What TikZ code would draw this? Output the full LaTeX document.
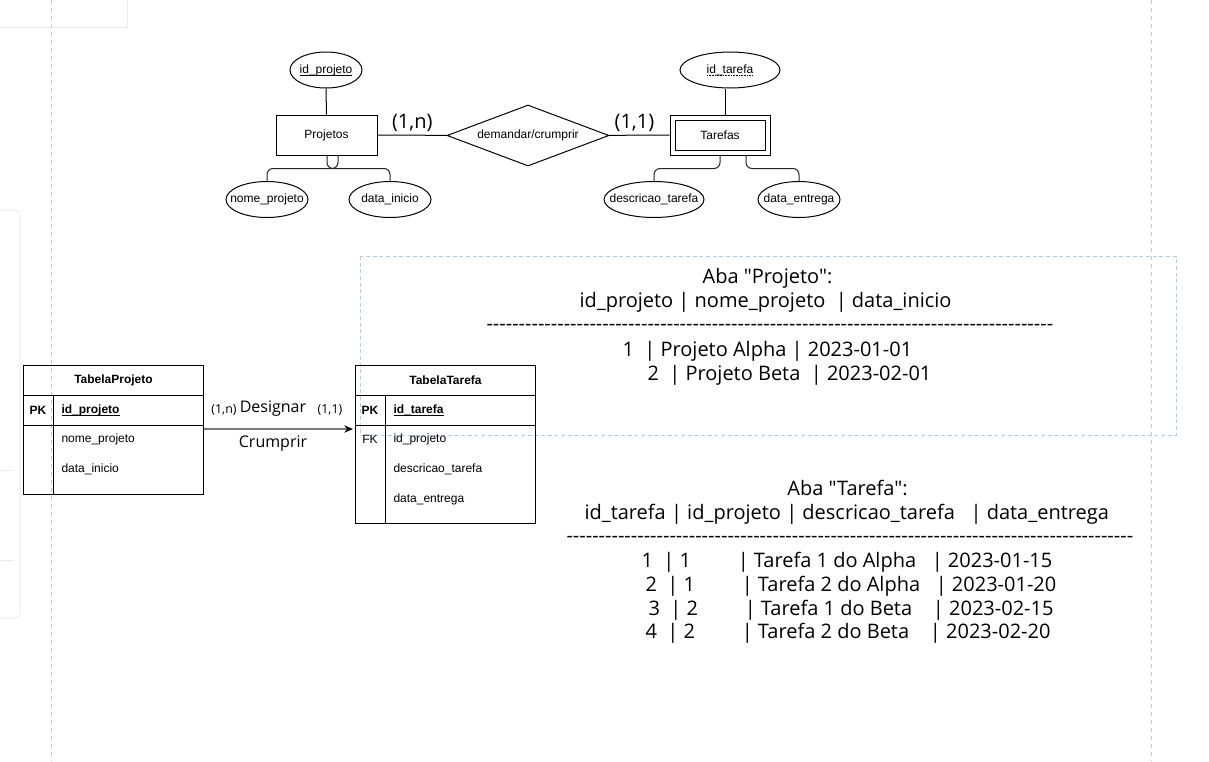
\documentclass[tikz,border=0pt]{standalone}
\usepackage{fontspec}
\setmainfont{Liberation Sans}
\newfontfamily\osans{Open Sans}
\usetikzlibrary{shapes.geometric,arrows.meta,calc}
\ExplSyntaxOn
\cs_new:Npn \myrep #1#2 { \prg_replicate:nn {#1} {#2} }
\ExplSyntaxOff
\newcommand\ers{\fontsize{9}{11}\selectfont}
\newcommand\bigos{\osans\fontsize{15}{18}\selectfont}
\newcommand\myul[1]{\setbox0\hbox{#1}\rlap{\rule[-1.7pt]{\wd0}{0.6pt}}\box0}
\newcommand\mydul[1]{\setbox0\hbox{#1}\rlap{\hbox to \wd0{\leaders\hbox to 1.2pt{\hss\rule[-1.7pt]{0.6pt}{0.6pt}\hss}\hfill}}\box0}
\definecolor{pagegray}{HTML}{C8C8C8}
\definecolor{selblue}{HTML}{B3CCEE}
\definecolor{edgegray}{HTML}{7A7A7A}
\definecolor{uigray}{HTML}{ECECEC}
\begin{document}
\begin{tikzpicture}[x=0.75pt,y=-0.75pt,line width=0.75pt,
  attr/.style={draw,ellipse,minimum height=27pt,inner sep=0pt,label={[font=\ers,inner sep=0pt]center:#1}},
  entity/.style={draw,rectangle,minimum width=75.75pt,minimum height=30pt,font=\ers},
  bigtxt/.style={font=\bigos,anchor=base west,inner sep=0pt},
  cell/.style={font=\ers,anchor=west,inner sep=0pt},
  conn/.style={draw=black,line width=0.75pt},
  attrconn/.style={draw=black!85,line width=0.75pt,rounded corners=4.5pt}]
\useasboundingbox (0,0) rectangle (1209,761);
% editor chrome
\draw[uigray] (-2,-2) rectangle (127,27);
\draw[uigray,rounded corners=4pt] (-6,210) rectangle (20,618);
\draw[uigray] (0,470) -- (14,470);
\draw[uigray] (0,560) -- (14,560);
\draw[pagegray,dashed,dash pattern=on 3pt off 3pt] (51,0) -- (51,761);
\draw[pagegray,dashed,dash pattern=on 3pt off 3pt] (1151,0) -- (1151,761);
\draw[selblue,dash pattern=on 3pt off 2pt] (360,256) rectangle (1176,435);

% ER diagram
\node[entity] (proj) at (326.5,135) {Projetos};
\node[attr={\myul{id\_projeto}},minimum width=54pt] (idp) at (326,70) {};
\node[attr={nome\_projeto},minimum width=61.5pt] (nomep) at (267,199.5) {};
\node[attr={data\_inicio},minimum width=61.5pt] (datai) at (390,199.5) {};
\node[draw,diamond,shape aspect=2.66,minimum width=121.5pt,minimum height=45.75pt,inner sep=0pt,font=\ers] (rel) at (528,135.5) {demandar/crumprir};
\node[draw,rectangle,minimum width=75pt,minimum height=30pt] (tar) at (720,135) {};
\node[draw,rectangle,minimum width=67.5pt,minimum height=22.5pt,font=\ers] (tarin) at (tar) {Tarefas};
\node[attr={\mydul{id\_tarefa}},minimum width=75pt] (idt) at (730,70) {};
\node[attr={descricao\_tarefa},minimum width=75pt] (desct) at (654,199.5) {};
\node[attr={data\_entrega},minimum width=61.5pt] (datae) at (799,199.5) {};

\draw[conn] (idp) -- (proj);
\draw[conn] (proj) -- (rel) node[pos=0.5,above=-1pt,font=\bigos] {(1,n)};
\draw[conn] (rel) -- (tar) node[pos=0.42,above=-1pt,font=\bigos] {(1,1)};
\coordinate (tline) at (725,0);
\draw[conn] (idt.south -| tline) -- (tar.north -| tline);
\draw[attrconn] ($(proj.south)+(11.5,0)$) -- ++(0,13) -| (nomep.north);
\draw[attrconn] ($(proj.south)+(0.5,0)$) -- ++(0,13) -| (datai.north);
\draw[attrconn] (tar.south) -- ++(0,13) -| (desct.north);
\draw[attrconn] ($(tar.south)+(26,0)$) -- ++(0,13) -| (datae.north);

% Tables
\node[draw,minimum width=135pt,minimum height=96.75pt,anchor=north west,inner sep=0pt] (tp) at (23,365) {};
\draw ($(tp.north west)+(0,30)$) -- ($(tp.north east)+(0,30)$);
\draw ($(tp.north west)+(0,60)$) -- ($(tp.north east)+(0,60)$);
\draw ($(tp.north west)+(30,30)$) -- ($(tp.south west)+(30,0)$);
\node[font=\ers\bfseries] (tph) at ($(tp.north)+(0,15)$) {TabelaProjeto};
\node[font=\ers\bfseries] (tppk) at ($(tp.north west)+(15,45)$) {PK};
\node[cell,font=\ers\bfseries] (tpid) at ($(tp.north west)+(38,45)$) {\myul{id\_projeto}};
\node[cell] (tpnome) at ($(tp.north west)+(38,74)$) {nome\_projeto};
\node[cell] (tpdata) at ($(tp.north west)+(38,104)$) {data\_inicio};

\node[draw,minimum width=135pt,minimum height=118.5pt,anchor=north west,inner sep=0pt] (tt) at (355,365) {};
\draw ($(tt.north west)+(0,30)$) -- ($(tt.north east)+(0,30)$);
\draw ($(tt.north west)+(0,60)$) -- ($(tt.north east)+(0,60)$);
\draw ($(tt.north west)+(30,30)$) -- ($(tt.south west)+(30,0)$);
\node[font=\ers\bfseries] (tth) at ($(tt.north)+(0,15)$) {TabelaTarefa};
\node[font=\ers\bfseries] (ttpk) at ($(tt.north west)+(15,45)$) {PK};
\node[cell,font=\ers\bfseries] (ttid) at ($(tt.north west)+(38,45)$) {\myul{id\_tarefa}};
\node[font=\ers] (ttfk) at ($(tt.north west)+(15,74)$) {FK};
\node[cell] (ttidp) at ($(tt.north west)+(38,74)$) {id\_projeto};
\node[cell] (ttdesc) at ($(tt.north west)+(38,104)$) {descricao\_tarefa};
\node[cell] (ttdata) at ($(tt.north west)+(38,134)$) {data\_entrega};

\draw[draw=edgegray,line width=0.9pt,-{Stealth[black,length=6.5pt,width=5.5pt]},shorten >=1.5pt] (tp.east |- 0,429) -- (tt.west |- 0,429);
\node[font=\osans\fontsize{9.3}{11}\selectfont] (c1n) at (224,410) {(1,n)};
\node[font=\osans\fontsize{12}{14}\selectfont] (desig) at (273,409) {Designar};
\node[font=\osans\fontsize{9.3}{11}\selectfont] (c11) at (330,410) {(1,1)};
\node[font=\osans\fontsize{12}{14}\selectfont] (crum) at (273,444) {Crumprir};

% Aba Projeto
\node[bigtxt,anchor=base] (abap) at (767.5,283) {Aba "Projeto":};
\node[bigtxt] (hp) at (579,307) {id\_projeto | nome\_projeto\ \ | data\_inicio};
\node[bigtxt] (dp) at (486,330) {\myrep{88}{-\kern0pt}};
\node[bigtxt] (rp1) at (622,356) {1\ \ | Projeto Alpha | 2023-01-01};
\node[bigtxt] (rp2) at (647,380) {2\ \ | Projeto Beta\ \ | 2023-02-01};

% Aba Tarefa
\node[bigtxt,anchor=base] (abat) at (847.5,495) {Aba "Tarefa":};
\node[bigtxt] (ht) at (584,519) {id\_tarefa | id\_projeto | descricao\_tarefa\ \ \ | data\_entrega};
\node[bigtxt] (dt) at (566,542) {\myrep{88}{-\kern0pt}};
\node[bigtxt] (rt1) at (641,567) {1\ \ | 1\ \ \ \ \ \ \ \ \ | Tarefa 1 do Alpha\ \ \ | 2023-01-15};
\node[bigtxt] (rt2) at (645,591) {2\ \ | 1\ \ \ \ \ \ \ \ \ | Tarefa 2 do Alpha\ \ \ | 2023-01-20};
\node[bigtxt] (rt3) at (648,615) {3\ \ | 2\ \ \ \ \ \ \ \ \ | Tarefa 1 do Beta\ \ \ \ | 2023-02-15};
\node[bigtxt] (rt4) at (645,638) {4\ \ | 2\ \ \ \ \ \ \ \ \ | Tarefa 2 do Beta\ \ \ \ | 2023-02-20};
\end{tikzpicture}
\end{document}
